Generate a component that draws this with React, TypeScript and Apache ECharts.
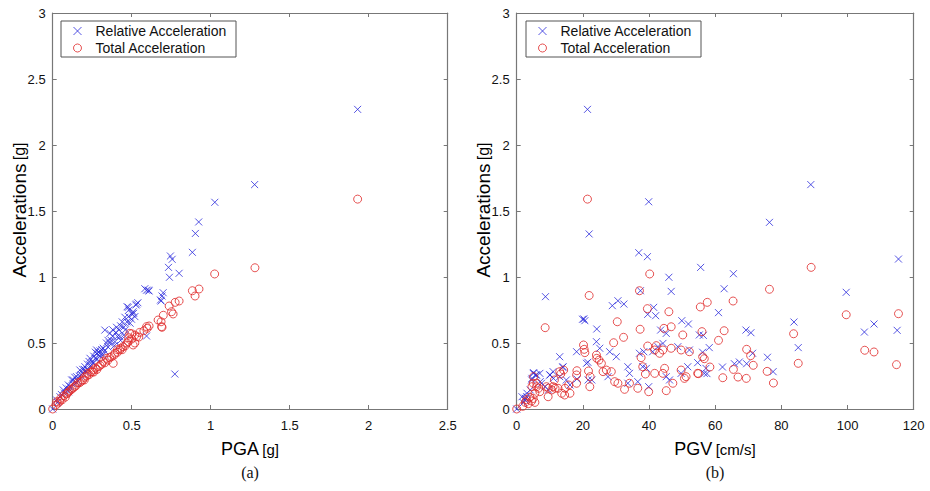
import React, { useEffect, useRef } from "react";
import * as echarts from "echarts";

// ---- Data ----
const pgaTicks = ["0", "0.5", "1", "1.5", "2", "2.5"];
const pgvTicks = ["0", "20", "40", "60", "80", "100", "120"];
const seriesNames = ["Relative Acceleration", "Total Acceleration"];

// (a) PGA [g] vs relative acceleration [g]
const pgaRelative: [number, number][] = [
  [0, 0], [0.025, 0.068], [0.03, 0.05], [0.046, 0.093], [0.055, 0.11], [0.067, 0.144], [0.075, 0.12],
  [0.085, 0.16], [0.099, 0.182], [0.1, 0.13], [0.105, 0.15], [0.11, 0.17], [0.12, 0.22], [0.13, 0.19],
  [0.13, 0.22], [0.14, 0.24], [0.15, 0.2], [0.151, 0.245], [0.16, 0.21], [0.17, 0.25], [0.172, 0.295],
  [0.18, 0.26], [0.19, 0.3], [0.19, 0.27], [0.2, 0.3], [0.204, 0.32], [0.21, 0.28], [0.22, 0.34],
  [0.22, 0.3], [0.23, 0.36], [0.236, 0.384], [0.24, 0.33], [0.25, 0.36], [0.257, 0.346], [0.26, 0.4],
  [0.27, 0.43], [0.27, 0.38], [0.278, 0.447], [0.28, 0.38], [0.28, 0.42], [0.29, 0.43], [0.299, 0.422],
  [0.3, 0.4], [0.3, 0.44], [0.31, 0.45], [0.32, 0.41], [0.32, 0.46], [0.33, 0.598], [0.33, 0.44],
  [0.34, 0.5], [0.35, 0.47], [0.35, 0.52], [0.36, 0.5], [0.362, 0.573], [0.37, 0.52], [0.38, 0.55],
  [0.38, 0.6], [0.39, 0.48], [0.394, 0.51], [0.4, 0.58], [0.404, 0.619], [0.41, 0.55], [0.42, 0.6],
  [0.425, 0.548], [0.43, 0.63], [0.43, 0.52], [0.44, 0.66], [0.45, 0.62], [0.45, 0.56], [0.457, 0.695],
  [0.46, 0.6], [0.47, 0.66], [0.471, 0.775], [0.478, 0.77], [0.48, 0.7], [0.482, 0.75], [0.49, 0.65],
  [0.499, 0.68], [0.5, 0.72], [0.509, 0.737], [0.512, 0.725], [0.52, 0.7], [0.526, 0.788],
  [0.531, 0.795], [0.539, 0.805], [0.594, 0.553], [0.583, 0.911], [0.594, 0.9], [0.606, 0.9], [0.61, 0.894],
  [0.682, 0.826], [0.686, 0.818], [0.692, 0.856], [0.699, 0.881], [0.733, 1.073], [0.739, 0.998],
  [0.745, 1.159], [0.756, 1.134], [0.773, 0.265], [0.8, 1.028], [0.884, 1.187], [0.903, 1.33],
  [0.924, 1.417], [1.026, 1.566], [1.278, 1.7], [1.93, 2.27],
];

// (a) PGA [g] vs total acceleration [g]
const pgaTotal: [number, number][] = [
  [0, 0], [0.02, 0.03], [0.025, 0.055], [0.035, 0.045], [0.046, 0.06], [0.05, 0.08], [0.06, 0.07],
  [0.07, 0.1], [0.08, 0.09], [0.088, 0.115], [0.095, 0.12], [0.1, 0.13], [0.11, 0.14], [0.12, 0.15],
  [0.13, 0.16], [0.14, 0.17], [0.15, 0.18], [0.16, 0.2], [0.172, 0.2], [0.18, 0.21], [0.19, 0.22],
  [0.2, 0.24], [0.2, 0.22], [0.215, 0.25], [0.22, 0.27], [0.23, 0.26], [0.24, 0.28], [0.25, 0.28],
  [0.257, 0.295], [0.26, 0.28], [0.27, 0.31], [0.28, 0.3], [0.288, 0.32], [0.3, 0.33], [0.31, 0.34],
  [0.32, 0.36], [0.33, 0.35], [0.341, 0.384], [0.35, 0.37], [0.36, 0.39], [0.372, 0.396], [0.383, 0.346],
  [0.39, 0.41], [0.394, 0.422], [0.41, 0.43], [0.41, 0.45], [0.425, 0.447], [0.43, 0.46], [0.44, 0.45],
  [0.446, 0.472], [0.46, 0.48], [0.47, 0.5], [0.478, 0.51], [0.48, 0.54], [0.488, 0.573], [0.5, 0.53],
  [0.5, 0.57], [0.509, 0.485], [0.52, 0.5], [0.52, 0.56], [0.531, 0.548], [0.545, 0.545], [0.55, 0.58],
  [0.577, 0.593], [0.594, 0.624], [0.598, 0.611], [0.61, 0.629], [0.667, 0.674], [0.686, 0.661],
  [0.689, 0.624], [0.692, 0.619], [0.7, 0.71], [0.737, 0.78], [0.752, 0.737], [0.762, 0.72],
  [0.775, 0.808], [0.8, 0.818], [0.884, 0.896], [0.901, 0.856], [0.926, 0.909], [1.025, 1.023],
  [1.28, 1.07], [1.93, 1.59],
];

// (b) PGV [cm/s] vs relative acceleration [g]
const pgvRelative: [number, number][] = [
  [0, 0], [1.6, 0.093], [2.0, 0.048], [2.5, 0.068], [2.6, 0.081], [3.0, 0.093], [3.1, 0.119], [4.1, 0.144],
  [4.5, 0.22], [4.6, 0.232], [5.0, 0.27], [5.1, 0.275], [5.8, 0.258], [6.0, 0.258], [7.0, 0.27], [7.1, 0.207],
  [7.5, 0.195], [8.6, 0.169], [8.7, 0.851], [9.6, 0.144], [10.0, 0.258], [10.1, 0.258], [11.0, 0.283],
  [11.1, 0.232], [13.0, 0.396], [13.0, 0.245], [13.9, 0.316], [14.0, 0.32], [15.0, 0.22], [16.1, 0.182],
  [18.1, 0.434], [18.2, 0.227], [19.9, 0.68], [20.3, 0.682], [20.6, 0.669], [21.1, 0.346], [21.4, 2.27],
  [21.5, 0.354], [21.6, 0.22], [21.9, 1.326], [22.7, 0.22], [24.1, 0.51], [24.2, 0.606], [25.1, 0.46],
  [27.6, 0.245], [28.1, 0.434], [28.9, 0.783], [30.1, 0.396], [30.6, 0.82], [32.4, 0.795], [33.6, 0.32],
  [33.6, 0.195], [34.1, 0.27], [36.6, 0.207], [36.9, 1.184], [37.1, 0.422], [37.4, 0.896], [38.1, 0.32],
  [38.4, 0.434], [39.2, 0.308], [39.5, 1.154], [39.6, 0.717], [39.9, 1.57], [39.9, 0.169], [41.1, 0.434],
  [41.4, 0.77], [42.0, 0.707], [42.7, 0.472], [43.5, 0.598], [44.2, 0.497], [45.2, 0.573], [45.2, 0.245],
  [46.0, 0.998], [46.2, 0.22], [46.7, 0.891], [48.7, 0.472], [49.7, 0.27], [49.9, 0.669], [51.7, 0.32],
  [51.9, 0.644], [52.2, 0.447], [54.7, 0.351], [55.2, 0.561], [55.6, 1.073], [56.2, 0.43], [56.4, 0.558],
  [56.7, 0.27], [57.2, 0.308], [57.5, 0.268], [58.2, 0.465], [61.0, 0.73], [62.2, 0.318], [62.7, 0.911],
  [65.5, 1.025], [65.8, 0.343], [67.3, 0.356], [69.3, 0.598], [69.5, 0.343], [70.8, 0.578], [71.3, 0.422],
  [75.8, 0.392], [76.4, 1.414], [77.5, 0.283], [83.8, 0.659], [85.1, 0.465], [88.9, 1.7], [99.6, 0.884],
  [105.1, 0.583], [108, 0.644], [115, 0.596], [115.4, 1.136],
];

// (b) PGV [cm/s] vs total acceleration [g]
const pgvTotal: [number, number][] = [
  [0, 0], [1.8, 0.02], [2.6, 0.05], [3.0, 0.07], [3.5, 0.04], [4.0, 0.09], [4.5, 0.06], [5.0, 0.08],
  [5.5, 0.05], [4.6, 0.169], [5.0, 0.195], [5.1, 0.245], [5.5, 0.119], [6.0, 0.169], [6.1, 0.195],
  [6.6, 0.157], [7.0, 0.131], [8.6, 0.616], [9.0, 0.169], [9.5, 0.093], [9.6, 0.157], [10.6, 0.144],
  [11.0, 0.169], [11.4, 0.22], [11.6, 0.157], [12.5, 0.157], [13.0, 0.283], [13.3, 0.265], [13.6, 0.119],
  [14.2, 0.295], [14.5, 0.106], [14.6, 0.157], [15.7, 0.182], [16.1, 0.119], [18.1, 0.258], [18.1, 0.195],
  [18.2, 0.29], [20.2, 0.485], [20.4, 0.452], [20.6, 0.427], [21.4, 1.59], [21.7, 0.288], [21.9, 0.86],
  [22.1, 0.169], [22.2, 0.245], [24.1, 0.409], [24.2, 0.384], [24.9, 0.371], [25.6, 0.346], [26.1, 0.283],
  [27.1, 0.295], [28.6, 0.283], [29.3, 0.502], [29.6, 0.207], [30.4, 0.661], [30.6, 0.195], [32.3, 0.543],
  [32.6, 0.149], [34.1, 0.195], [36.6, 0.157], [37.1, 0.896], [37.3, 0.604], [37.6, 0.389], [38.1, 0.32],
  [38.9, 0.265], [39.5, 0.76], [39.6, 0.477], [39.9, 0.131], [40.2, 1.023], [41.7, 0.447], [41.7, 0.27],
  [42.2, 0.48], [43.2, 0.422], [44.2, 0.447], [44.2, 0.27], [44.5, 0.611], [44.7, 0.308], [45.2, 0.139],
  [46.0, 0.737], [46.7, 0.623], [46.7, 0.46], [47.2, 0.195], [49.7, 0.447], [49.7, 0.295], [50.2, 0.561],
  [50.7, 0.232], [51.2, 0.245], [52.2, 0.434], [54.7, 0.27], [54.9, 0.268], [55.5, 0.773], [56.0, 0.586],
  [56.2, 0.396], [56.7, 0.381], [57.6, 0.808], [58.4, 0.318], [61.0, 0.52], [62.3, 0.237], [62.7, 0.593],
  [65.4, 0.818], [65.5, 0.3], [66.9, 0.242], [69.4, 0.232], [69.5, 0.452], [70.7, 0.404], [71.5, 0.331],
  [75.7, 0.285], [76.4, 0.907], [77.6, 0.197], [83.7, 0.57], [85.1, 0.346], [89.0, 1.073], [99.6, 0.714],
  [105.2, 0.445], [108, 0.432], [114.8, 0.336], [115.4, 0.722],
];

const BLUE = "#2b2bdc";
const RED = "#e02828";
const AXIS = "#777777";
const SANS = "'Liberation Sans', Arial, sans-serif";
const SERIF = "'Liberation Serif', 'Times New Roman', serif";
const CROSS = "path://M0,0L10,10M10,0L0,10";

export default function App() {
  const ref = useRef<HTMLDivElement>(null);

  useEffect(() => {
    if (!ref.current) return;
    const chart = echarts.init(ref.current, undefined, { renderer: "svg" });

    const grids = [
      { left: 52.7, top: 13, width: 395, height: 396 },
      { left: 516.7, top: 13, width: 397, height: 396 },
    ];

    const xRanges = [
      { max: 2.5, interval: 0.5, ticks: pgaTicks },
      { max: 120, interval: 20, ticks: pgvTicks },
    ];

    const xAxes: any[] = [];
    const yAxes: any[] = [];
    grids.forEach((_, gi) => {
      const xr = xRanges[gi];
      const common = {
        type: "value",
        gridIndex: gi,
        min: 0,
        splitLine: { show: false },
        axisLine: { show: true, onZero: false, lineStyle: { color: AXIS, width: 1.2 } },
        axisTick: { show: true, inside: true, length: 4, lineStyle: { color: AXIS } },
      };
      xAxes.push({
        ...common,
        position: "bottom",
        max: xr.max,
        interval: xr.interval,
        axisLabel: {
          show: true,
          color: "#111",
          fontFamily: SANS,
          fontSize: 13,
          margin: 10,
          formatter: (v: number) => xr.ticks[Math.round(v / xr.interval)] ?? "",
        },
      });
      xAxes.push({
        ...common,
        position: "top",
        max: xr.max,
        interval: xr.interval,
        axisLabel: { show: false },
      });
      yAxes.push({
        ...common,
        position: "left",
        max: 3,
        interval: 0.5,
        axisLabel: { show: true, color: "#111", fontFamily: SANS, fontSize: 13, margin: 7 },
      });
      yAxes.push({
        ...common,
        position: "right",
        max: 3,
        interval: 0.5,
        axisLabel: { show: false },
      });
    });

    const relItem = { color: "rgba(0,0,0,0)", borderColor: BLUE, borderWidth: 1 };
    const totItem = { color: "rgba(0,0,0,0)", borderColor: RED, borderWidth: 1 };
    const relStyle = { symbol: CROSS, symbolSize: 7, itemStyle: relItem };
    const totStyle = { symbol: "circle", symbolSize: 8, itemStyle: totItem };

    const series: any[] = [
      { type: "scatter", name: seriesNames[0], xAxisIndex: 0, yAxisIndex: 0, data: pgaRelative, ...relStyle },
      { type: "scatter", name: seriesNames[1], xAxisIndex: 0, yAxisIndex: 0, data: pgaTotal, ...totStyle },
      { type: "scatter", name: seriesNames[0], xAxisIndex: 2, yAxisIndex: 2, data: pgvRelative, ...relStyle },
      { type: "scatter", name: seriesNames[1], xAxisIndex: 2, yAxisIndex: 2, data: pgvTotal, ...totStyle },
    ].map((s) => ({ ...s, emphasis: { disabled: true }, silent: true }));

    const legendBase = {
      orient: "vertical",
      top: 21,
      data: [
        { name: seriesNames[0], icon: "path://M3,0L11,8M11,0L3,8", itemStyle: { ...relItem } },
        { name: seriesNames[1], icon: "circle", itemStyle: { ...totItem } },
      ],
      itemWidth: 26,
      itemHeight: 8,
      itemGap: 3,
      padding: [3, 9, 2, 12],
      borderColor: "#555",
      borderWidth: 1,
      borderRadius: 0,
      backgroundColor: "#fff",
      selectedMode: false,
      textStyle: { fontFamily: SANS, fontSize: 14, color: "#111" },
    };

    const titleRich = {
      a: { fontFamily: SANS, fontSize: 18, color: "#111" },
      b: { fontFamily: SANS, fontSize: 15, color: "#111" },
    };
    const yTitleRich = {
      a: { fontFamily: SANS, fontSize: 19, color: "#111" },
      b: { fontFamily: SANS, fontSize: 16, color: "#111" },
    };

    const graphic: any[] = [
      { type: "text", x: 250, y: 449, style: { text: "{a|PGA} {b|[g]}", rich: titleRich, align: "center", verticalAlign: "middle" } },
      { type: "text", x: 715, y: 449, style: { text: "{a|PGV} {b|[cm/s]}", rich: titleRich, align: "center", verticalAlign: "middle" } },
      { type: "text", x: 250, y: 472, style: { text: "(a)", fontFamily: SERIF, fontSize: 16, fill: "#111", align: "center", verticalAlign: "middle" } },
      { type: "text", x: 715, y: 472, style: { text: "(b)", fontFamily: SERIF, fontSize: 16, fill: "#111", align: "center", verticalAlign: "middle" } },
      { type: "text", x: 19, y: 210, rotation: Math.PI / 2, style: { text: "{a|Accelerations} {b|[g]}", rich: yTitleRich, align: "center", verticalAlign: "middle" } },
      { type: "text", x: 483, y: 210, rotation: Math.PI / 2, style: { text: "{a|Accelerations} {b|[g]}", rich: yTitleRich, align: "center", verticalAlign: "middle" } },
    ];

    chart.setOption({
      animation: false,
      backgroundColor: "#fff",
      grid: grids.map((g) => ({ ...g, containLabel: false })),
      xAxis: xAxes,
      yAxis: yAxes,
      legend: [
        { ...legendBase, left: 61 },
        { ...legendBase, left: 526 },
      ],
      series,
      graphic,
    });

    return () => chart.dispose();
  }, []);

  return (
    <div
      ref={ref}
      style={{ position: "fixed", left: 0, top: 0, width: 930, height: 491, background: "#fff" }}
    />
  );
}
